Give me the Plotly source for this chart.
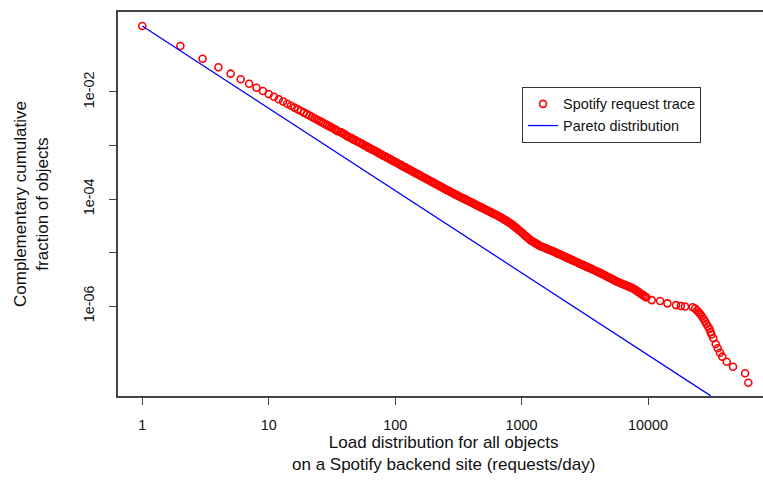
import plotly.graph_objects as go

# ---- data (requests/day vs complementary CDF) ----
load_single = [1, 2, 3, 4, 5, 6, 7, 8, 9, 10, 11, 12, 13, 14, 15, 16, 17, 18, 19, 20,
               21, 22, 23, 24, 25, 26, 27, 28, 29, 30, 31, 32, 33, 34]
ccdf_single = [0.171, 0.0724, 0.0419, 0.0290, 0.0220, 0.0173, 0.0143, 0.0120, 0.01044, 0.00918,
               0.00813, 0.00731, 0.00662, 0.00604, 0.00554, 0.00511, 0.00473, 0.00442, 0.00412, 0.00386,
               3.63e-3, 3.42e-3, 3.23e-3, 3.06e-3, 2.90e-3, 2.76e-3, 2.63e-3, 2.51e-3, 2.40e-3, 2.30e-3,
               2.20e-3, 2.12e-3, 2.03e-3, 1.96e-3]

load_band = [35, 37, 38, 39, 40, 41, 42, 43, 45, 46, 47, 49, 50, 52, 53, 55, 56, 58, 60, 61,
             63, 65, 67, 69, 71, 73, 75, 77, 79, 82, 84, 87, 89, 92, 94, 97, 100, 103, 106, 109,
             112, 115, 119, 122, 126, 130, 133, 137, 141, 145, 150, 154, 158, 163, 168, 173, 178, 183, 188, 194,
             200, 205, 211, 218, 224, 230, 237, 244, 251, 259, 266, 274, 282, 290, 298, 307, 316, 325, 335, 345,
             355, 365, 376, 387, 398, 410, 422, 434, 447, 460, 473, 487, 501, 516, 531, 546, 562, 579, 596, 613,
             631, 649, 668, 688, 708, 729, 750, 772, 794, 818, 841, 866, 891, 917, 944, 972, 1000, 1029, 1059, 1090,
             1122, 1155, 1189, 1223, 1259, 1296, 1334, 1373, 1413, 1454, 1496, 1540, 1585, 1631, 1679, 1728, 1778, 1830, 1884, 1939,
             1995, 2054, 2113, 2175, 2239, 2304, 2371, 2441, 2512, 2585, 2661, 2738, 2818, 2901, 2985, 3073, 3162, 3255, 3350, 3448,
             3548, 3652, 3758, 3868, 3981, 4097, 4217, 4340, 4467, 4597, 4732, 4870, 5012, 5158, 5309, 5464, 5623, 5788, 5957, 6131,
             6310, 6494, 6683, 6879, 7079, 7286, 7499, 7718, 7943, 8175, 8414, 8660, 8913, 9173, 9441, 9716]
ccdf_band = [1.85e-3, 1.79e-3, 1.72e-3, 1.66e-3, 1.60e-3, 1.54e-3, 1.49e-3, 1.43e-3, 1.38e-3, 1.33e-3,
             1.28e-3, 1.24e-3, 1.19e-3, 1.15e-3, 1.11e-3, 1.07e-3, 1.03e-3, 9.92e-4, 9.55e-4, 9.21e-4,
             8.87e-4, 8.56e-4, 8.24e-4, 7.95e-4, 7.66e-4, 7.38e-4, 7.11e-4, 6.86e-4, 6.61e-4, 6.37e-4,
             6.14e-4, 5.92e-4, 5.70e-4, 5.50e-4, 5.30e-4, 5.11e-4, 4.92e-4, 4.75e-4, 4.57e-4, 4.41e-4,
             4.25e-4, 4.10e-4, 3.94e-4, 3.81e-4, 3.66e-4, 3.53e-4, 3.40e-4, 3.28e-4, 3.16e-4, 3.05e-4,
             2.94e-4, 2.83e-4, 2.73e-4, 2.63e-4, 2.54e-4, 2.45e-4, 2.36e-4, 2.27e-4, 2.19e-4, 2.11e-4,
             2.03e-4, 1.96e-4, 1.89e-4, 1.82e-4, 1.75e-4, 1.69e-4, 1.63e-4, 1.57e-4, 1.51e-4, 1.46e-4,
             1.41e-4, 1.36e-4, 1.31e-4, 1.27e-4, 1.22e-4, 1.18e-4, 1.14e-4, 1.10e-4, 1.07e-4, 1.03e-4,
             9.95e-5, 9.62e-5, 9.29e-5, 8.99e-5, 8.69e-5, 8.39e-5, 8.11e-5, 7.83e-5, 7.57e-5, 7.32e-5,
             7.06e-5, 6.83e-5, 6.61e-5, 6.38e-5, 6.17e-5, 5.96e-5, 5.75e-5, 5.56e-5, 5.37e-5, 5.19e-5,
             5.01e-5, 4.85e-5, 4.68e-5, 4.49e-5, 4.32e-5, 4.15e-5, 3.98e-5, 3.82e-5, 3.66e-5, 3.49e-5,
             3.32e-5, 3.14e-5, 2.98e-5, 2.82e-5, 2.67e-5, 2.52e-5, 2.38e-5, 2.24e-5, 2.10e-5, 1.98e-5,
             1.86e-5, 1.76e-5, 1.67e-5, 1.60e-5, 1.54e-5, 1.48e-5, 1.42e-5, 1.36e-5, 1.31e-5, 1.28e-5,
             1.24e-5, 1.21e-5, 1.17e-5, 1.14e-5, 1.11e-5, 1.08e-5, 1.05e-5, 1.02e-5, 9.84e-6, 9.54e-6,
             9.25e-6, 8.96e-6, 8.69e-6, 8.42e-6, 8.17e-6, 7.92e-6, 7.67e-6, 7.44e-6, 7.21e-6, 6.99e-6,
             6.78e-6, 6.57e-6, 6.37e-6, 6.17e-6, 5.98e-6, 5.80e-6, 5.62e-6, 5.45e-6, 5.28e-6, 5.12e-6,
             4.97e-6, 4.81e-6, 4.67e-6, 4.52e-6, 4.39e-6, 4.25e-6, 4.11e-6, 3.97e-6, 3.83e-6, 3.69e-6,
             3.56e-6, 3.44e-6, 3.33e-6, 3.21e-6, 3.10e-6, 2.99e-6, 2.88e-6, 2.80e-6, 2.72e-6, 2.64e-6,
             2.57e-6, 2.50e-6, 2.43e-6, 2.36e-6, 2.30e-6, 2.23e-6, 2.17e-6, 2.08e-6, 2.00e-6, 1.90e-6,
             1.82e-6, 1.73e-6, 1.65e-6, 1.58e-6, 1.51e-6, 1.45e-6]

load_tail = [10690, 12450, 14220, 16630, 18160, 19590, 22540, 23550, 24380, 25290, 26000, 26730,
             27480, 28250, 28970, 29790, 30620, 31190, 31770, 32810, 34280, 35560, 37070, 38640,
             41880, 46990, 58480, 62090]
ccdf_tail = [1.29e-6, 1.24e-6, 1.12e-6, 1.04e-6, 1.00e-6, 9.8e-7, 9.46e-7, 8.97e-7, 8.24e-7, 7.57e-7,
             6.93e-7, 6.37e-7, 5.71e-7, 5.13e-7, 4.61e-7, 4.14e-7, 3.72e-7, 3.27e-7, 2.93e-7, 2.49e-7,
             1.95e-7, 1.62e-7, 1.34e-7, 1.13e-7, 9.10e-8, 7.33e-8, 5.52e-8, 3.68e-8]

pareto_load = [1, 31330]
pareto_ccdf = [0.171, 2.09e-8]

x_tick_vals = [1, 10, 100, 1000, 10000]
x_tick_text = ["1", "10", "100", "1000", "10000"]
y_tick_vals = [1e-2, 1e-3, 1e-4, 1e-5, 1e-6]
y_tick_text = ["1e-02", "", "1e-04", "", "1e-06"]

FONT = "Liberation Sans, Arial, Helvetica, sans-serif"
AXIS_COL = "#444444"
TXT_COL = "#111111"

fig = go.Figure()
fig.add_trace(go.Scatter(
    x=load_single + load_band + load_tail,
    y=ccdf_single + ccdf_band + ccdf_tail,
    mode="markers",
    name="Spotify request trace",
    marker=dict(symbol="circle-open", size=7, color="#ff0000", line=dict(width=1.6, color="#ff0000")),
))
fig.add_trace(go.Scatter(
    x=pareto_load, y=pareto_ccdf, mode="lines",
    name="Pareto distribution",
    line=dict(color="#0000ff", width=1.3),
))

fig.update_layout(
    width=763, height=486,
    margin=dict(l=118, r=0, t=12, b=90),
    paper_bgcolor="white", plot_bgcolor="white",
    font=dict(family=FONT, color=TXT_COL, size=14.4),
    showlegend=True,
    legend=dict(x=0.6264, y=0.7318, xanchor="left", yanchor="middle",
                bordercolor="#333333", borderwidth=1, bgcolor="white",
                font=dict(family=FONT, size=14.4, color=TXT_COL),
                tracegroupgap=0),
    annotations=[
        dict(text="Load distribution for all objects<br>on a Spotify backend site (requests/day)",
             xref="paper", yref="paper", x=0.5054, y=-0.151, xanchor="center", yanchor="middle",
             showarrow=False, font=dict(family=FONT, size=17, color=TXT_COL)),
        dict(text="Complementary cumulative<br>fraction of objects",
             xref="paper", yref="paper", x=-0.1349, y=0.5, xanchor="center", yanchor="middle",
             textangle=-90, showarrow=False, font=dict(family=FONT, size=17, color=TXT_COL)),
    ],
)
fig.update_xaxes(type="log", range=[-0.192, 4.909],
                 tickvals=x_tick_vals, ticktext=x_tick_text,
                 ticks="outside", ticklen=7, tickwidth=1, tickcolor=AXIS_COL,
                 showline=True, linecolor=AXIS_COL, linewidth=1.5, mirror=True,
                 showgrid=False, zeroline=False, ticklabelstandoff=8,
                 tickfont=dict(family=FONT, size=14.4, color=TXT_COL))
fig.update_yaxes(type="log", range=[-7.682, -0.505],
                 tickvals=y_tick_vals, ticktext=y_tick_text, tickangle=-90,
                 ticks="outside", ticklen=7, tickwidth=1, tickcolor=AXIS_COL,
                 showline=True, linecolor=AXIS_COL, linewidth=1.5, mirror=False,
                 showgrid=False, zeroline=False, ticklabelstandoff=9,
                 tickfont=dict(family=FONT, size=14.4, color=TXT_COL))

fig.write_html("out.html", config={"displayModeBar": False},
               post_script="document.body.style.margin='0';")
